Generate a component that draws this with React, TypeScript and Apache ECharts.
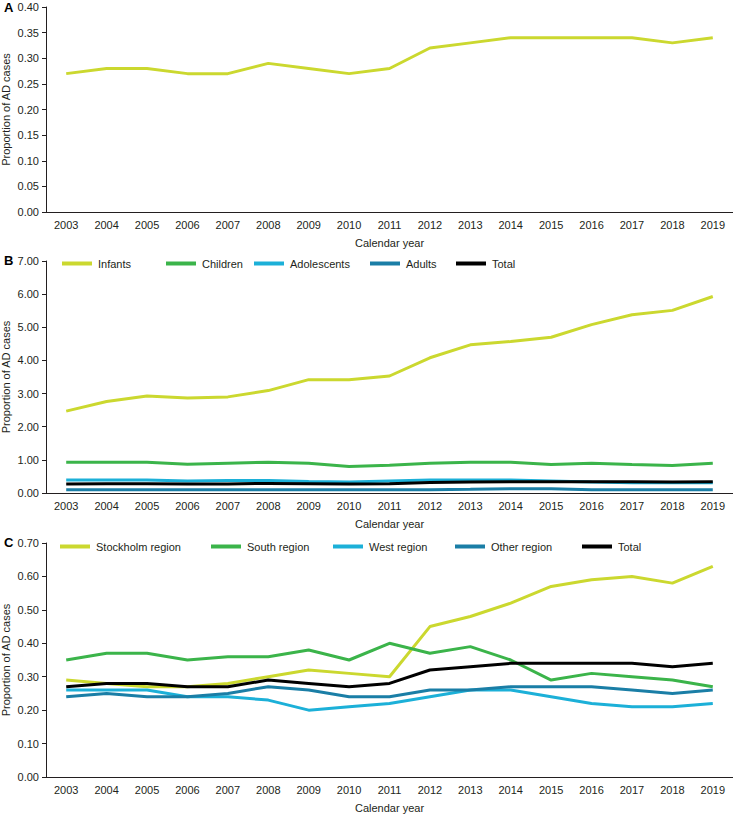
import React, { useEffect, useRef } from 'react';
import * as echarts from 'echarts';

const years = ['2003', '2004', '2005', '2006', '2007', '2008', '2009', '2010', '2011', '2012', '2013', '2014', '2015', '2016', '2017', '2018', '2019'];

// Panel A
const overallA = [0.27, 0.28, 0.28, 0.27, 0.27, 0.29, 0.28, 0.27, 0.28, 0.32, 0.33, 0.34, 0.34, 0.34, 0.34, 0.33, 0.34];

// Panel B
const infants = [2.47, 2.76, 2.93, 2.87, 2.9, 3.09, 3.42, 3.42, 3.53, 4.08, 4.47, 4.57, 4.7, 5.08, 5.38, 5.51, 5.93];
const children = [0.93, 0.93, 0.93, 0.87, 0.9, 0.93, 0.9, 0.8, 0.84, 0.9, 0.93, 0.93, 0.86, 0.9, 0.86, 0.83, 0.9];
const adolescents = [0.39, 0.39, 0.39, 0.36, 0.38, 0.38, 0.35, 0.33, 0.36, 0.39, 0.39, 0.39, 0.36, 0.33, 0.31, 0.31, 0.31];
const adults = [0.1, 0.1, 0.1, 0.1, 0.1, 0.1, 0.1, 0.1, 0.1, 0.1, 0.11, 0.13, 0.13, 0.1, 0.1, 0.1, 0.1];
const totalB = [0.27, 0.28, 0.28, 0.27, 0.27, 0.29, 0.28, 0.27, 0.28, 0.32, 0.33, 0.34, 0.34, 0.34, 0.34, 0.33, 0.34];

// Panel C
const stockholm = [0.29, 0.28, 0.27, 0.27, 0.28, 0.3, 0.32, 0.31, 0.3, 0.45, 0.48, 0.52, 0.57, 0.59, 0.6, 0.58, 0.63];
const south = [0.35, 0.37, 0.37, 0.35, 0.36, 0.36, 0.38, 0.35, 0.4, 0.37, 0.39, 0.35, 0.29, 0.31, 0.3, 0.29, 0.27];
const west = [0.26, 0.26, 0.26, 0.24, 0.24, 0.23, 0.2, 0.21, 0.22, 0.24, 0.26, 0.26, 0.24, 0.22, 0.21, 0.21, 0.22];
const other = [0.24, 0.25, 0.24, 0.24, 0.25, 0.27, 0.26, 0.24, 0.24, 0.26, 0.26, 0.27, 0.27, 0.27, 0.26, 0.25, 0.26];
const totalC = [0.27, 0.28, 0.28, 0.27, 0.27, 0.29, 0.28, 0.27, 0.28, 0.32, 0.33, 0.34, 0.34, 0.34, 0.34, 0.33, 0.34];

const Y_TITLE = 'Proportion of AD cases';

const C_YG = '#cbd82f';
const C_GREEN = '#3bb44a';
const C_CYAN = '#1cb0d8';
const C_TEAL = '#1a7ea6';
const C_BLACK = '#000000';

const FONT = '"Liberation Sans", Arial, sans-serif';
const TEXT = '#231f20';

export default function App() {
  const ref = useRef<HTMLDivElement>(null);
  useEffect(() => {
    document.body.style.margin = '0';
    const chart = echarts.init(ref.current!, null, { renderer: 'svg' });

    const grids = [
      { left: 46, right: 0, top: 7, height: 205, containLabel: false, outerBoundsMode: 'none' },
      { left: 46, right: 0, top: 261, height: 232, containLabel: false, outerBoundsMode: 'none' },
      { left: 46, right: 0, top: 543, height: 234, containLabel: false, outerBoundsMode: 'none' },
    ];
    const yCfg = [
      { max: 0.4, interval: 0.05 },
      { max: 7, interval: 1 },
      { max: 0.7, interval: 0.1 },
    ];

    const xAxes = grids.map((_, i) => ({
      type: 'category',
      gridIndex: i,
      data: years,
      boundaryGap: true,
      name: 'Calendar year',
      nameLocation: 'middle',
      nameGap: 25,
      nameTextStyle: { fontSize: 11, color: TEXT, fontFamily: FONT },
      axisLine: { lineStyle: { color: '#231f20', width: 1 } },
      axisTick: { alignWithLabel: true, length: 4, lineStyle: { color: '#231f20' } },
      axisLabel: { fontSize: 11, color: TEXT, fontFamily: FONT, margin: 7, interval: 0 },
      splitLine: { show: false },
    }));

    const yAxes = grids.map((_, i) => ({
      type: 'value',
      gridIndex: i,
      min: 0,
      max: yCfg[i].max,
      interval: yCfg[i].interval,
      axisLine: { show: true, lineStyle: { color: '#231f20', width: 1 } },
      axisTick: { show: true, length: 4, lineStyle: { color: '#231f20' } },
      axisLabel: {
        fontSize: 11,
        color: TEXT,
        fontFamily: FONT,
        margin: 7,
        formatter: (v: number) => v.toFixed(2),
      },
      splitLine: { show: false },
    }));

    const mk = (name: string, data: number[], color: string, idx: number) => ({
      type: 'line',
      name,
      data,
      xAxisIndex: idx,
      yAxisIndex: idx,
      showSymbol: false,
      symbol: 'none',
      smooth: false,
      lineStyle: { color, width: 3 },
      itemStyle: { color },
    });

    const series = [
      mk('Overall', overallA, C_YG, 0),
      mk('Infants', infants, C_YG, 1),
      mk('Children', children, C_GREEN, 1),
      mk('Adolescents', adolescents, C_CYAN, 1),
      mk('Adults', adults, C_TEAL, 1),
      mk('Total', totalB, C_BLACK, 1),
      mk('Stockholm region', stockholm, C_YG, 2),
      mk('South region', south, C_GREEN, 2),
      mk('West region', west, C_CYAN, 2),
      mk('Other region', other, C_TEAL, 2),
      mk('Total ', totalC, C_BLACK, 2),
    ];

    const legendItems: [string, number, number][] = [
      ['Infants', 62, 258],
      ['Children', 166, 258],
      ['Adolescents', 254, 258],
      ['Adults', 370, 258],
      ['Total', 456, 258],
      ['Stockholm region', 60, 541],
      ['South region', 211, 541],
      ['West region', 333, 541],
      ['Other region', 455, 541],
      ['Total ', 582, 541],
    ];
    const legend = legendItems.map(([name, left, top]) => ({
      data: [name],
      left,
      top,
      padding: 0,
      icon: 'rect',
      itemWidth: 30,
      itemHeight: 4,
      itemGap: 0,
      textStyle: { fontSize: 11, color: TEXT, fontFamily: FONT, padding: [0, 0, 0, 1] },
      selectedMode: false,
      formatter: (n: string) => n.trim(),
    }));

    const panelLabel = (text: string, top: number) => ({
      type: 'text',
      left: 4,
      top,
      style: { text, fontSize: 13, fontWeight: 'bold', fill: '#000', fontFamily: FONT },
    });

    const yTitle = (cy: number) => ({
      type: 'text',
      x: 6,
      y: cy,
      rotation: Math.PI / 2,
      style: {
        text: Y_TITLE,
        fontSize: 11,
        fill: TEXT,
        fontFamily: FONT,
        align: 'center',
        verticalAlign: 'middle',
      },
    });

    chart.setOption({
      animation: false,
      backgroundColor: '#ffffff',
      grid: grids,
      xAxis: xAxes,
      yAxis: yAxes,
      legend,
      series,
      graphic: [
        panelLabel('A', 1),
        panelLabel('B', 254),
        panelLabel('C', 536),
        yTitle(109.5),
        yTitle(377),
        yTitle(660),
      ],
    });
    return () => chart.dispose();
  }, []);
  return <div ref={ref} style={{ width: 733, height: 815 }} />;
}
